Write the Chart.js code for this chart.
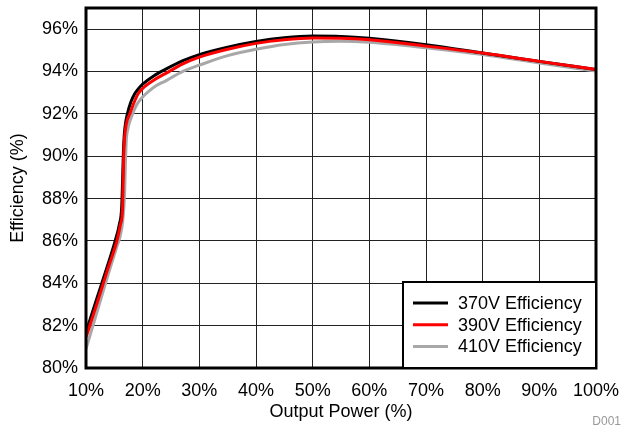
<!DOCTYPE html>
<html>
<head>
<meta charset="utf-8">
<script src="https://cdn.jsdelivr.net/npm/chart.js@4.4.1/dist/chart.umd.min.js"></script>
<style>
  html, body { margin: 0; padding: 0; background: #fff; }
  #wrap { width: 623px; height: 431px; }
</style>
</head>
<body>
<div id="wrap"><canvas id="canvas1" width="623" height="431"></canvas></div>
<script>
// output power (%) and efficiency (%)
const power370 = [10, 12, 14, 15.2, 15.9, 16.3, 16.45, 16.6, 16.75, 17.0, 17.35, 17.9, 18.6, 19.3, 20, 22, 24, 27, 30, 35, 40, 45, 50, 55, 60, 70, 80, 90, 100];
const eff370 =   [81.7, 83.35, 85.0, 86.05, 86.8, 87.6, 88.8, 90.2, 91.0, 91.6, 92.05, 92.55, 92.95, 93.2, 93.4, 93.8, 94.1, 94.5, 94.8, 95.15, 95.42, 95.6, 95.68, 95.66, 95.57, 95.27, 94.88, 94.48, 94.1];

const power390 = [10, 12, 14, 15.5, 16.1, 16.45, 16.55, 16.65, 16.8, 17.1, 17.8, 18.5, 19.2, 20, 22, 24, 27, 30, 35, 40, 45, 50, 55, 60, 70, 80, 90, 100];
const eff390 =   [81.45, 83.1, 84.8, 86.05, 86.8, 87.5, 88.8, 90.0, 90.85, 91.5, 92.05, 92.55, 92.95, 93.2, 93.6, 93.9, 94.35, 94.68, 95.05, 95.33, 95.5, 95.58, 95.57, 95.5, 95.2, 94.87, 94.48, 94.1];

const power410 = [10, 12, 14, 15.4, 16.0, 16.5, 16.8, 16.95, 17.1, 17.4, 17.8, 18.3, 19.0, 20, 21, 22.5, 24, 27, 30, 35, 40, 45, 50, 55, 60, 70, 80, 90, 100];
const eff410 =   [80.9, 82.7, 84.5, 85.7, 86.2, 87.0, 88.2, 89.6, 90.7, 91.3, 91.7, 92.05, 92.45, 92.8, 93.05, 93.35, 93.55, 94.0, 94.3, 94.75, 95.05, 95.28, 95.4, 95.43, 95.38, 95.12, 94.8, 94.4, 94.02];

const seriesLabels = ['370V Efficiency', '390V Efficiency', '410V Efficiency'];
const seriesColors = ['#000000', '#ff0000', '#a8a8a8'];

const xTicks = { min: 10, max: 100, step: 10 };
const yTicks = { min: 80, max: 97, step: 1 };

const fontFamily = 'Arial, "Liberation Sans", sans-serif';
Chart.defaults.font.family = fontFamily;
Chart.defaults.color = '#000';

function toPoints(xs, ys) {
  return xs.map(function (x, i) { return { x: x, y: ys[i] }; });
}

const dataObject = [
  { label: seriesLabels[0], data: toPoints(power370, eff370), borderColor: seriesColors[0], order: 1 },
  { label: seriesLabels[1], data: toPoints(power390, eff390), borderColor: seriesColors[1], order: 0 },
  { label: seriesLabels[2], data: toPoints(power410, eff410), borderColor: seriesColors[2], order: 2 },
].map(function (d) {
  return Object.assign({
    borderWidth: 3,
    pointRadius: 0,
    fill: false,
    cubicInterpolationMode: 'monotone',
  }, d);
});

// frame, legend box and the D001 tag
const extras = {
  id: 'extras',
  afterDatasetsDraw: function (chart) {
    const ctx = chart.ctx;
    const a = chart.chartArea;
    ctx.save();
    ctx.strokeStyle = '#000';
    ctx.lineWidth = 3;
    ctx.strokeRect(a.left, a.top, a.right - a.left, a.bottom - a.top);

    // legend
    const bw = 193, bh = 86;
    const bx = a.right - bw, by = a.bottom - bh;
    ctx.fillStyle = '#fff';
    ctx.fillRect(bx, by, bw, bh);
    ctx.lineWidth = 2;
    ctx.strokeRect(bx, by, bw, bh);
    ctx.font = '18px ' + fontFamily;
    ctx.textBaseline = 'middle';
    ctx.textAlign = 'left';
    chart.data.datasets.forEach(function (ds, i) {
      const y = by + 21 + i * 21.7;
      ctx.strokeStyle = ds.borderColor;
      ctx.lineWidth = 3;
      ctx.beginPath();
      ctx.moveTo(bx + 10, y);
      ctx.lineTo(bx + 45, y);
      ctx.stroke();
      ctx.fillStyle = '#000';
      ctx.fillText(ds.label, bx + 55, y + 1);
    });

    ctx.font = '12px ' + fontFamily;
    ctx.fillStyle = '#999';
    ctx.textAlign = 'right';
    ctx.fillText('D001', 621, 422);
    ctx.restore();
  }
};

const config = {
  type: 'line',
  data: { datasets: dataObject },
  options: {
    responsive: false,
    animation: false,
    layout: { padding: { top: 8, right: 27, left: 0, bottom: 0 } },
    plugins: { legend: { display: false }, tooltip: { enabled: false } },
    scales: {
      x: {
        type: 'linear',
        min: xTicks.min,
        max: xTicks.max,
        border: { display: false },
        grid: { color: '#222', lineWidth: 1, drawTicks: false },
        ticks: {
          stepSize: xTicks.step,
          padding: 12,
          font: { size: 18 },
          callback: function (v) { return v + '%'; }
        },
        title: { display: true, text: 'Output Power (%)', font: { size: 18 }, padding: { top: 0, bottom: 8 } },
        afterFit: function (scale) {
          scale.height = 63;
          scale.paddingLeft = 0;
          scale.paddingRight = 0;
        }
      },
      y: {
        min: yTicks.min,
        max: yTicks.max,
        border: { display: false },
        grid: { color: '#222', lineWidth: 1, drawTicks: false },
        ticks: {
          stepSize: yTicks.step,
          padding: 8,
          font: { size: 18 },
          callback: function (v) { return v % 2 === 0 ? v + '%' : ''; }
        },
        title: { display: true, text: 'Efficiency (%)', font: { size: 18 }, padding: { top: 7, bottom: 0 } },
        afterFit: function (scale) {
          scale.width = 86;
          scale.paddingTop = 0;
          scale.paddingBottom = 0;
        }
      }
    }
  },
  plugins: [extras]
};

var myChart = new Chart(document.getElementById('canvas1'), config);
</script>
</body>
</html>
